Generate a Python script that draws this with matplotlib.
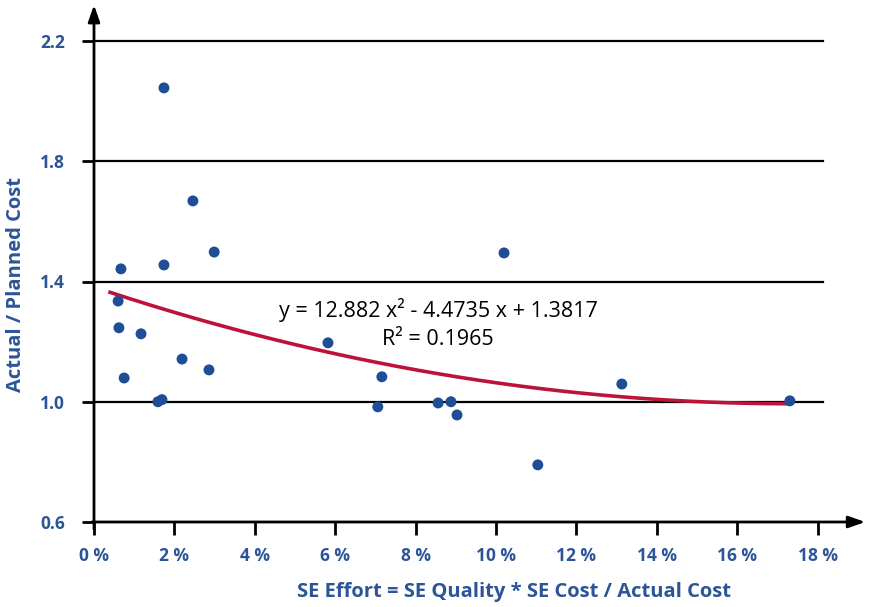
import matplotlib
matplotlib.use("Agg")
import matplotlib.pyplot as plt
import numpy as np

# Data (x in %, y ratio)
x_pct = [1.74, 2.46, 2.99, 1.74, 0.67, 0.60, 0.62, 1.17, 2.19, 2.86, 0.75,
         1.59, 1.69, 5.82, 7.16, 7.06, 8.56, 8.88, 9.03, 10.20, 11.04, 13.13, 17.31]
y_ratio = [2.044, 1.668, 1.498, 1.455, 1.442, 1.335, 1.246, 1.226, 1.142, 1.106, 1.079,
           1.000, 1.007, 1.196, 1.083, 0.983, 0.996, 1.000, 0.956, 1.495, 0.790, 1.059, 1.003]
trend_coef = [12.882, -4.4735, 1.3817]  # a x^2 + b x + c, x as fraction
trend_start_pct = 0.40
equation_text = "y = 12.882 x² - 4.4735 x + 1.3817"
r2_text = "R² = 0.1965"
x_ticks = [0, 2, 4, 6, 8, 10, 12, 14, 16, 18]
y_ticks = [0.6, 1.0, 1.4, 1.8, 2.2]
x_label = "SE Effort = SE Quality * SE Cost / Actual Cost"
y_label = "Actual / Planned Cost"

blue = "#2C5597"
dot = "#1F4E96"
red = "#BE1339"
font = "Open Sans"

fig = plt.figure(figsize=(8.73, 6.07), dpi=100)
ax = fig.add_axes([94/873, 1-522/607, (823-94)/873, (522-41)/607])
ax.set_xlim(0, (823-94)/40.2)
ax.set_ylim(0.6, 2.2)

for yt in y_ticks[1:]:
    ax.axhline(yt, color="black", lw=1.6, zorder=1, clip_on=False)

ax.scatter(x_pct, y_ratio, s=62, color=dot, zorder=3, edgecolors="none")

xs = np.linspace(trend_start_pct, max(x_pct), 200)
xf = xs / 100.0
ys = trend_coef[0]*xf**2 + trend_coef[1]*xf + trend_coef[2]
ax.plot(xs, ys, color=red, lw=2.6, zorder=2)

ax.text(0.472, 0.44, equation_text, transform=ax.transAxes, ha="center", va="center",
        fontsize=15.5, family=font, color="black")
ax.text(0.472, 0.38, r2_text, transform=ax.transAxes, ha="center", va="center",
        fontsize=15.5, family=font, color="black")

for s in ["top", "right", "left", "bottom"]:
    ax.spines[s].set_visible(False)

ax.set_xticks(x_ticks)
ax.set_xticklabels([f"{t} %" for t in x_ticks])
ax.set_yticks(y_ticks)
ax.set_yticklabels([f"{t:.1f}" for t in y_ticks])
ax.tick_params(axis="both", direction="out", length=9, width=2, colors="black",
               labelcolor=blue, labelsize=12.5)
ax.tick_params(axis="x", pad=9)
ax.tick_params(axis="y", pad=12)
for lab in ax.get_xticklabels() + ax.get_yticklabels():
    lab.set_fontweight("bold")
    lab.set_family(font)

ax.annotate("", xy=(0, 1.075), xytext=(0, -0.015), xycoords="axes fraction",
            arrowprops=dict(arrowstyle="-|>,head_length=1.0,head_width=0.35", color="black", lw=2,
                            shrinkA=0, shrinkB=0), annotation_clip=False)
ax.annotate("", xy=(1.058, 0), xytext=(-0.003, 0), xycoords="axes fraction",
            arrowprops=dict(arrowstyle="-|>,head_length=1.0,head_width=0.35", color="black", lw=2,
                            shrinkA=0, shrinkB=0), annotation_clip=False)

fig.text(514/873, 1-592/607, x_label, ha="center", va="center", fontsize=14.5,
         fontweight="bold", color=blue, family=font)
fig.text(16/873, 1-285/607, y_label, ha="center", va="center", rotation=90, fontsize=14.5,
         fontweight="bold", color=blue, family=font)

fig.savefig("out.png", dpi=100)
